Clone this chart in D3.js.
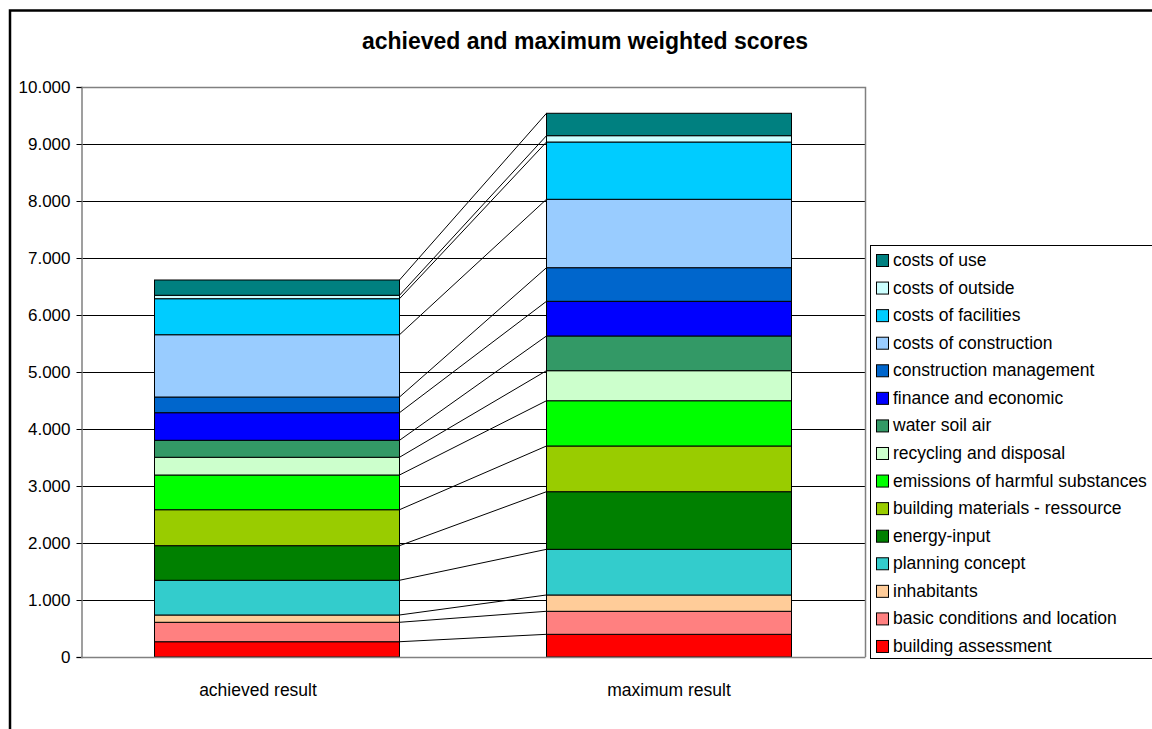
<!DOCTYPE html>
<html>
<head>
<meta charset="utf-8">
<script src="https://cdn.jsdelivr.net/npm/d3@7"></script>
<style>
  html, body { margin: 0; padding: 0; background: #fff; }
  svg { display: block; font-family: "Liberation Sans", Arial, sans-serif; }
</style>
</head>
<body>
<svg id="chart" width="1152" height="729"></svg>
<script>
// Criteria, stacked bottom to top
const seriesNames = [
  "building assessment",
  "basic conditions and location",
  "inhabitants",
  "planning concept",
  "energy-input",
  "building materials - ressource",
  "emissions of harmful substances",
  "recycling and disposal",
  "water soil air",
  "finance and economic",
  "construction management",
  "costs of construction",
  "costs of facilities",
  "costs of outside",
  "costs of use"
];
const seriesColors = [
  "#FF0000", "#FF8080", "#FFCC99", "#33CCCC", "#008000",
  "#99CC00", "#00FF00", "#CCFFCC", "#339966", "#0000FF",
  "#0066CC", "#99CCFF", "#00CCFF", "#CCFFFF", "#008080"
];
const categories = ["achieved result", "maximum result"];
const achievedValues = [268, 341, 128, 609, 607, 631, 609, 311, 298, 484, 275, 1093, 632, 60, 268];
const maximumValues  = [398, 404, 286, 801, 1011, 802, 794, 527, 609, 608, 590, 1200, 1005, 111, 393];
const yTicks = [0, 1000, 2000, 3000, 4000, 5000, 6000, 7000, 8000, 9000, 10000];
const titleText = "achieved and maximum weighted scores";

const svg = d3.select("#chart");

// outer frame
svg.append("rect")
  .attr("x", 10).attr("y", 10.5)
  .attr("width", 1300).attr("height", 900)
  .attr("fill", "#fff").attr("stroke", "#000").attr("stroke-width", 2.5);

const plot = { left: 81, right: 865, top: 87, bottom: 657 };

const x = d3.scaleBand().domain(categories)
  .range([plot.left, plot.right]).paddingInner(0.375).paddingOuter(0.1875);
const y = d3.scaleLinear().domain([0, 10000]).range([plot.bottom, plot.top]);

const de = d3.formatLocale({ decimal: ",", thousands: ".", grouping: [3], currency: ["", ""] });
const fmt = de.format(",d");

// table: one row per category
const rows = categories.map((c, i) => {
  const vals = i === 0 ? achievedValues : maximumValues;
  const r = { category: c };
  seriesNames.forEach((s, k) => { r[s] = vals[k]; });
  return r;
});
const stacked = d3.stack().keys(seriesNames)(rows);

// title
svg.append("text")
  .attr("x", 585).attr("y", 49)
  .attr("text-anchor", "middle")
  .attr("font-weight", "bold").attr("font-size", 23)
  .text(titleText);

// gridlines
svg.append("g").selectAll("line").data(yTicks.slice(1)).join("line")
  .attr("x1", plot.left).attr("x2", plot.right)
  .attr("y1", d => Math.round(y(d)) + 0.5).attr("y2", d => Math.round(y(d)) + 0.5)
  .attr("stroke", "#000").attr("stroke-width", 1);

// plot area border (top and right)
svg.append("path")
  .attr("d", `M${plot.left},${plot.top + 0.5}H${plot.right + 0.5}V${plot.bottom}`)
  .attr("fill", "none").attr("stroke", "#808080").attr("stroke-width", 1.5);

// connector lines between the tops of matching segments
const bw = x.bandwidth();
svg.append("g").selectAll("line").data(stacked).join("line")
  .attr("x1", x(categories[0]) + bw).attr("x2", x(categories[1]))
  .attr("y1", d => y(d[0][1])).attr("y2", d => y(d[1][1]))
  .attr("stroke", "#000").attr("stroke-width", 1);

// stacked bars
svg.append("g").selectAll("g").data(stacked).join("g")
  .attr("fill", (d, i) => seriesColors[i])
  .selectAll("rect").data(d => d).join("rect")
  .attr("x", d => x(d.data.category))
  .attr("width", bw)
  .attr("y", d => y(d[1]))
  .attr("height", d => y(d[0]) - y(d[1]))
  .attr("stroke", "#000").attr("stroke-width", 1);

// y axis
const yAxis = svg.append("g")
  .attr("transform", `translate(${plot.left + 0.5},0)`)
  .call(d3.axisLeft(y).tickValues(yTicks).tickFormat(fmt).tickSize(5).tickPadding(6));
yAxis.select(".domain").attr("stroke", "#808080").attr("stroke-width", 1.5);
yAxis.selectAll(".tick line").attr("stroke", "#000");
yAxis.selectAll("text").attr("font-size", 17).attr("fill", "#000")
  .attr("font-family", "'Liberation Sans', Arial, sans-serif");

// x axis
const xAxis = svg.append("g")
  .attr("transform", `translate(0,${plot.bottom + 0.5})`)
  .call(d3.axisBottom(x).tickSize(0).tickPadding(26));
xAxis.select(".domain").attr("stroke", "#808080").attr("stroke-width", 1.5)
  .attr("d", `M${plot.left},0H${plot.right + 0.5}`);
xAxis.selectAll("text").attr("font-size", 17.5).attr("fill", "#000")
  .attr("font-family", "'Liberation Sans', Arial, sans-serif")
  .attr("dx", (d, i) => i === 0 ? -19 : 0);

// legend
const legend = svg.append("g").attr("transform", "translate(870,245)");
legend.append("rect")
  .attr("x", 0.5).attr("y", 0.5).attr("width", 400).attr("height", 413)
  .attr("fill", "#fff").attr("stroke", "#000").attr("stroke-width", 1);
const legendOrder = seriesNames.map((n, i) => ({ name: n, color: seriesColors[i] })).reverse();
const item = legend.selectAll("g.item").data(legendOrder).join("g")
  .attr("class", "item")
  .attr("transform", (d, i) => `translate(0,${15 + i * 27.57})`);
item.append("rect")
  .attr("x", 6.5).attr("y", -5.5).attr("width", 12).attr("height", 12)
  .attr("fill", d => d.color).attr("stroke", "#000").attr("stroke-width", 1);
item.append("text")
  .attr("x", 23).attr("y", 6)
  .attr("font-size", 17.5).attr("fill", "#000")
  .text(d => d.name);
</script>
</body>
</html>
